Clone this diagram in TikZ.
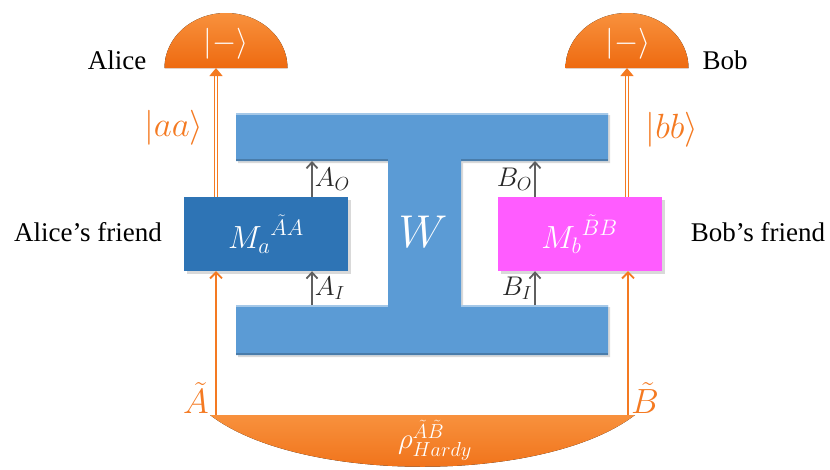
\documentclass[tikz,border=0pt]{standalone}
\RequirePackage{fix-cm}
\usepackage{fontspec}
\setmainfont{Liberation Serif}
\usetikzlibrary{arrows.meta, positioning, shadows}
\definecolor{corange}{HTML}{EE6A10}
\definecolor{corlight}{HTML}{F8913D}
\definecolor{corline}{HTML}{F47A22}
\definecolor{cwblue}{HTML}{5B9BD5}
\definecolor{cmablue}{HTML}{2E74B5}
\definecolor{cmbpink}{HTML}{FF5CFF}
\definecolor{cgrey}{HTML}{5F5F5F}
\tikzset{
  person/.style={font=\rmfamily\fontsize{27}{30}\selectfont, inner sep=0pt},
  meas/.style={fill=#1, minimum width=164pt, minimum height=74pt, text=white, inner sep=0pt,
    font=\fontsize{32}{34}\selectfont, drop shadow={shadow xshift=3pt, shadow yshift=-3pt, opacity=0.3}},
  wlbl/.style={text=white, font=\fontsize{46}{50}\selectfont, inner sep=0pt},
  port/.style={-{Straight Barb[length=6pt, width=11pt]}, draw=cgrey, line width=1.8pt},
  portlbl/.style={text=black!85, font=\fontsize{27}{28}\selectfont, inner sep=2pt},
  feed/.style={-{Straight Barb[length=6pt, width=12pt]}, draw=corline, line width=1.8pt},
  dbl/.style={-{Triangle[length=8pt, width=13pt]}, draw=corline, double=white, double distance=1.8pt, line width=1.3pt},
  orlbl/.style={text=corline, font=\fontsize{35}{36}\selectfont, inner sep=0pt},
  dome/.style={top color=corlight, bottom color=corange},
  ketlbl/.style={text=white, font=\fontsize{31}{32}\selectfont, inner sep=0pt},
  rholbl/.style={text=white, font=\fontsize{29}{30}\selectfont, inner sep=0pt},
}

\begin{document}
\begin{tikzpicture}[x=1pt, y=-1pt]
  \useasboundingbox (0,0) rectangle (830,469);
  % the comb W
  \fill[cwblue, drop shadow={shadow xshift=2pt, shadow yshift=-2pt, opacity=0.3}]
    (236,113) -- (608,113) -- (608,161) -- (461,161) -- (461,305) -- (608,305) -- (608,355)
    -- (236,355) -- (236,305) -- (388,305) -- (388,161) -- (236,161) -- cycle;
  \draw[cwblue!55!white, line width=1.5pt] (236,114) -- (608,114);
  \draw[cwblue!55!white, line width=1.5pt] (236,306) -- (388,306) (461,306) -- (608,306);
  \draw[cwblue!80!black, line width=1.2pt] (236,160) -- (388,160) (461,160) -- (608,160) (236,354) -- (608,354);
  \node[wlbl] (W) at (423,232) {$W$};
  \coordinate (wtop) at (423,161);
  \coordinate (wbot) at (423,305);
  % the friends' boxes
  \node[meas=cmablue] (Ma) at (266,234) {${M_a}^{\tilde A A}$};
  \node[meas=cmbpink] (Mb) at (579.5,234) {${M_b}^{\tilde B B}$};
  \coordinate (pa) at (312,0);
  \coordinate (pb) at (535,0);
  \draw[port] (Ma.north -| pa) -- node[portlbl, right] {$A_O$} (wtop -| pa);
  \draw[port] (wbot -| pa) -- node[portlbl, right] {$A_I$} (Ma.south -| pa);
  \draw[port] (Mb.north -| pb) -- node[portlbl, left] {$B_O$} (wtop -| pb);
  \draw[port] (wbot -| pb) -- node[portlbl, left] {$B_I$} (Mb.south -| pb);
  % measurement domes
  \fill[dome] (164.5,68) arc[start angle=180, end angle=0, x radius=61.5pt, y radius=55pt] -- cycle;
  \fill[dome] (565.5,68) arc[start angle=180, end angle=0, x radius=61.5pt, y radius=55pt] -- cycle;
  \node[ketlbl] (ketA) at (226,44) {$|-\rangle$};
  \node[ketlbl] (ketB) at (628,44) {$|-\rangle$};
  \coordinate (tA) at (216,68);
  \coordinate (tB) at (627,68);
  \draw[dbl] (Ma.north -| tA) -- node[orlbl, pos=0.54, left=12pt] {$|aa\rangle$} (tA);
  \draw[dbl] (Mb.north -| tB) -- node[orlbl, pos=0.52, right=18pt] {$|bb\rangle$} (tB);
  % the shared state
  \fill[dome] (210,415) .. controls (300,484) and (545,484) .. (635,415) -- cycle;
  \node[rholbl] (rho) at (435,440) {$\rho^{\tilde A\tilde B}_{Hardy}$};
  \coordinate (sA) at (216,415);
  \coordinate (sB) at (628,415);
  \draw[feed] (sA) -- (sA |- Ma.south);
  \draw[feed] (sB) -- (sB |- Mb.south);
  \node[orlbl] (atil) at (196,398) {$\tilde A$};
  \node[orlbl] (btil) at (645,398) {$\tilde B$};
  % names
  \node[person] (alice) at (117,60) {Alice};
  \node[person] (bob) at (725,60) {Bob};
  \node[person] (afriend) at (88,232) {Alice’s friend};
  \node[person] (bfriend) at (758,232) {Bob’s friend};
\end{tikzpicture}
\end{document}
